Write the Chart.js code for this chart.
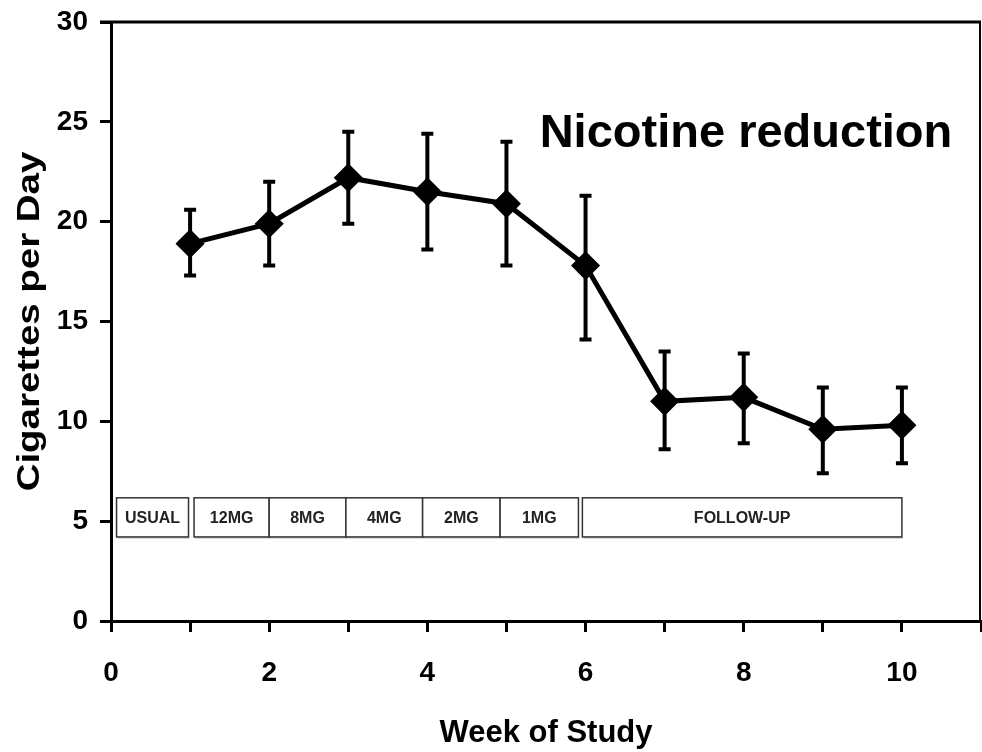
<!DOCTYPE html>
<html lang="en">
<head>
<meta charset="UTF-8" />
<title>Cigarettes per Day by Week of Study</title>
<script src="https://cdn.jsdelivr.net/npm/chart.js"></script>
<style>
    html, body {
        margin: 0;
        padding: 0;
        background: #fff;
    }
    canvas {
        display: block;
    }
</style>
</head>
<body>
<canvas id="grafico" width="982" height="752"></canvas>
<script>
    // Dados
    const semanas = [1, 2, 3, 4, 5, 6, 7, 8, 9, 10];
    const cigarros = [18.9, 19.9, 22.2, 21.5, 20.9, 17.8, 11.0, 11.2, 9.6, 9.8];
    const erroAlto = [20.6, 22.0, 24.5, 24.4, 24.0, 21.3, 13.5, 13.4, 11.7, 11.7];
    const erroBaixo = [17.3, 17.8, 19.9, 18.6, 17.8, 14.1, 8.6, 8.9, 7.4, 7.9];

    // Fases do estudo (faixas em semanas)
    const fases = ['USUAL', '12MG', '8MG', '4MG', '2MG', '1MG', 'FOLLOW-UP'];
    const faseInicio = [0.07, 1.05, 2.0, 2.97, 3.94, 4.92, 5.96];
    const faseFim = [0.98, 2.0, 2.97, 3.94, 4.92, 5.91, 10.0];
    const faseTopo = 6.17;
    const faseBase = 4.21;

    const ticksY = [0, 5, 10, 15, 20, 25, 30];
    const nota = 'Nicotine reduction';
    const notaX = 5.42;
    const notaY = 23.75;

    const fonte = "'Liberation Sans', Arial, sans-serif";

    // Caixas das fases
    const pluginFases = {
        id: 'fases',
        beforeDatasetsDraw(chart) {
            const { ctx, scales: { x, y } } = chart;
            const yt = y.getPixelForValue(faseTopo);
            const yb = y.getPixelForValue(faseBase);
            ctx.save();
            fases.forEach((nome, i) => {
                const x0 = x.getPixelForValue(faseInicio[i]);
                const x1 = x.getPixelForValue(faseFim[i]);
                ctx.fillStyle = '#fff';
                ctx.fillRect(x0, yt, x1 - x0, yb - yt);
                ctx.strokeStyle = '#aaa';
                ctx.lineWidth = 1;
                ctx.beginPath();
                ctx.moveTo(x0 + 1, yb + 1);
                ctx.lineTo(x1 + 1, yb + 1);
                ctx.stroke();
                ctx.strokeStyle = '#333';
                ctx.lineWidth = 1.5;
                ctx.strokeRect(x0, yt, x1 - x0, yb - yt);
                ctx.fillStyle = '#222';
                ctx.font = 'bold 16px ' + fonte;
                ctx.textAlign = 'center';
                ctx.textBaseline = 'middle';
                ctx.fillText(nome, (x0 + x1) / 2, (yt + yb) / 2 + 1);
            });
            ctx.restore();
        }
    };

    // Barras de erro
    const pluginErros = {
        id: 'erros',
        beforeDatasetsDraw(chart) {
            const { ctx, scales: { x, y } } = chart;
            ctx.save();
            ctx.strokeStyle = '#000';
            ctx.lineWidth = 4;
            semanas.forEach((s, i) => {
                const px = x.getPixelForValue(s);
                const ya = y.getPixelForValue(erroAlto[i]);
                const yb = y.getPixelForValue(erroBaixo[i]);
                ctx.beginPath();
                ctx.moveTo(px, ya);
                ctx.lineTo(px, yb);
                ctx.moveTo(px - 6, ya);
                ctx.lineTo(px + 6, ya);
                ctx.moveTo(px - 6, yb);
                ctx.lineTo(px + 6, yb);
                ctx.stroke();
            });
            ctx.restore();
        }
    };

    // Moldura, título do eixo Y e nota
    const pluginMoldura = {
        id: 'moldura',
        afterDraw(chart) {
            const { ctx, chartArea: a, scales: { x, y } } = chart;
            ctx.save();
            ctx.strokeStyle = '#000';
            ctx.lineWidth = 3;
            ctx.beginPath();
            ctx.moveTo(a.left - 11, a.top);
            ctx.lineTo(a.right, a.top);
            ctx.stroke();
            ctx.lineWidth = 2;
            ctx.beginPath();
            ctx.moveTo(a.right - 1, a.top);
            ctx.lineTo(a.right - 1, a.bottom);
            ctx.stroke();

            ctx.fillStyle = '#000';
            ctx.translate(30, (a.top + a.bottom) / 2);
            ctx.rotate(-Math.PI / 2);
            ctx.scale(1.24, 1);
            ctx.font = 'bold 31px ' + fonte;
            ctx.textAlign = 'center';
            ctx.textBaseline = 'middle';
            ctx.fillText('Cigarettes per Day', 0, 0);
            ctx.restore();

            ctx.save();
            ctx.fillStyle = '#000';
            ctx.font = 'bold 47px ' + fonte;
            ctx.textAlign = 'left';
            ctx.textBaseline = 'alphabetic';
            ctx.fillText(nota, x.getPixelForValue(notaX), y.getPixelForValue(notaY));
            ctx.restore();
        }
    };

    new Chart(document.getElementById('grafico'), {
        type: 'line',
        data: {
            datasets: [{
                label: 'Cigarettes per Day',
                data: semanas.map((s, i) => ({ x: s, y: cigarros[i] })),
                borderColor: '#000',
                backgroundColor: '#000',
                borderWidth: 5,
                pointStyle: 'rectRot',
                pointRadius: 11,
                pointBackgroundColor: '#000',
                pointBorderColor: '#000',
                tension: 0
            }]
        },
        options: {
            responsive: false,
            animation: false,
            layout: {
                autoPadding: false,
                padding: { top: 22, right: 1, left: 0, bottom: 0 }
            },
            plugins: {
                legend: { display: false },
                tooltip: { enabled: false }
            },
            scales: {
                x: {
                    type: 'linear',
                    min: 0,
                    max: 11,
                    afterFit: s => {
                        s.height = 131;
                        s.paddingLeft = 0;
                        s.paddingRight = 0;
                    },
                    border: { color: '#000', width: 3 },
                    grid: { drawOnChartArea: false, drawTicks: true, tickLength: 11, color: '#000', lineWidth: 3 },
                    ticks: {
                        stepSize: 1,
                        autoSkip: false,
                        maxRotation: 0,
                        padding: 24,
                        color: '#000',
                        font: { family: fonte, size: 28, weight: 'bold' },
                        callback: v => (v % 2 === 0 && v <= 10 ? String(v) : '')
                    },
                    title: {
                        display: true,
                        text: 'Week of Study',
                        color: '#000',
                        font: { family: fonte, size: 31, weight: 'bold' },
                        padding: { top: 0, bottom: 0 }
                    }
                },
                y: {
                    min: 0,
                    max: 30,
                    afterFit: s => {
                        s.width = 111;
                        s.paddingTop = 0;
                        s.paddingBottom = 0;
                    },
                    afterBuildTicks: s => { s.ticks = ticksY.map(v => ({ value: v })); },
                    border: { color: '#000', width: 3 },
                    grid: { drawOnChartArea: false, drawTicks: true, tickLength: 11, color: '#000', lineWidth: 3 },
                    ticks: {
                        padding: 12,
                        color: '#000',
                        font: { family: fonte, size: 28, weight: 'bold' }
                    }
                }
            }
        },
        plugins: [pluginFases, pluginErros, pluginMoldura]
    });
</script>
</body>
</html>
